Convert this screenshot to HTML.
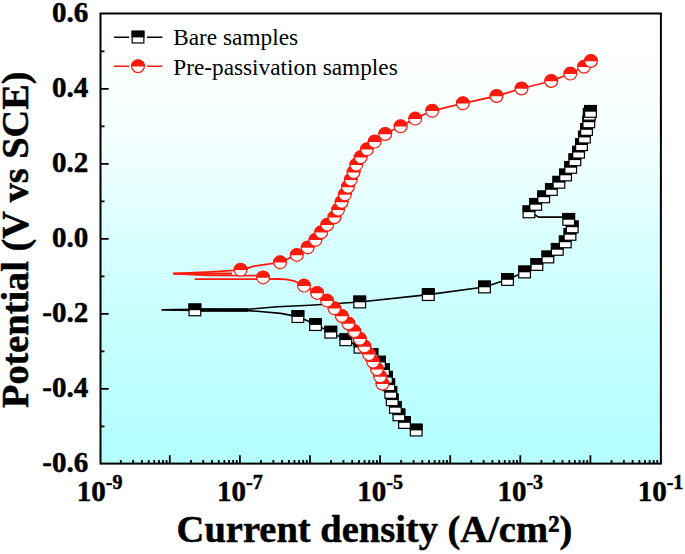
<!DOCTYPE html>
<html lang="en"><head><meta charset="utf-8"><title>Polarization curves</title>
<style>html,body{margin:0;padding:0;background:#fff}svg{display:block}text{font-family:"Liberation Serif","Times New Roman",serif;fill:#000}.b{font-weight:bold;stroke:#000;stroke-width:0.5px;stroke-linejoin:round}</style></head><body>
<svg width="685" height="554" viewBox="0 0 685 554">
<defs><linearGradient id="bg" x1="0" y1="0" x2="0" y2="1"><stop offset="0" stop-color="#ffffff"/><stop offset="0.11" stop-color="#fdffff"/><stop offset="0.2" stop-color="#f9ffff"/><stop offset="0.29" stop-color="#f3ffff"/><stop offset="0.39" stop-color="#e8ffff"/><stop offset="0.5" stop-color="#d9ffff"/><stop offset="0.64" stop-color="#ccffff"/><stop offset="0.75" stop-color="#c3ffff"/><stop offset="0.88" stop-color="#bbffff"/><stop offset="1" stop-color="#b5ffff"/></linearGradient>
<g id="sq"><rect x="-5.85" y="-5.85" width="11.70" height="11.70" fill="#fff" stroke="#000000" stroke-width="1.2"/><rect x="-6.45" y="-6.45" width="12.90" height="6.75" fill="#000000"/></g>
<g id="ci"><circle r="6.40" fill="#fff" stroke="#ff1a0d" stroke-width="1.2"/><path d="M-7.00,0.3 A7.00,7.00 0 0 1 7.00,0.3 Z" fill="#ff1a0d"/></g>
</defs>
<rect width="685" height="554" fill="#fff"/>
<rect x="100.5" y="13.5" width="560.40" height="450.10" fill="url(#bg)" stroke="#000" stroke-width="2"/>
<path d="M120.80,463.6 V460.10 M133.15,463.6 V460.10 M141.90,463.6 V460.10 M148.70,463.6 V460.10 M154.25,463.6 V460.10 M158.94,463.6 V460.10 M163.01,463.6 V460.10 M166.59,463.6 V460.10 M190.90,463.6 V460.10 M203.25,463.6 V460.10 M212.00,463.6 V460.10 M218.80,463.6 V460.10 M224.35,463.6 V460.10 M229.04,463.6 V460.10 M233.11,463.6 V460.10 M236.69,463.6 V460.10 M169.80,463.6 V455.20 M261.00,463.6 V460.10 M273.35,463.6 V460.10 M282.10,463.6 V460.10 M288.90,463.6 V460.10 M294.45,463.6 V460.10 M299.14,463.6 V460.10 M303.21,463.6 V460.10 M306.79,463.6 V460.10 M239.90,463.6 V455.20 M331.10,463.6 V460.10 M343.45,463.6 V460.10 M352.20,463.6 V460.10 M359.00,463.6 V460.10 M364.55,463.6 V460.10 M369.24,463.6 V460.10 M373.31,463.6 V460.10 M376.89,463.6 V460.10 M310.00,463.6 V455.20 M401.20,463.6 V460.10 M413.55,463.6 V460.10 M422.30,463.6 V460.10 M429.10,463.6 V460.10 M434.65,463.6 V460.10 M439.34,463.6 V460.10 M443.41,463.6 V460.10 M446.99,463.6 V460.10 M380.10,463.6 V455.20 M471.30,463.6 V460.10 M483.65,463.6 V460.10 M492.40,463.6 V460.10 M499.20,463.6 V460.10 M504.75,463.6 V460.10 M509.44,463.6 V460.10 M513.51,463.6 V460.10 M517.09,463.6 V460.10 M450.20,463.6 V455.20 M541.40,463.6 V460.10 M553.75,463.6 V460.10 M562.50,463.6 V460.10 M569.30,463.6 V460.10 M574.85,463.6 V460.10 M579.54,463.6 V460.10 M583.61,463.6 V460.10 M587.19,463.6 V460.10 M520.30,463.6 V455.20 M611.50,463.6 V460.10 M623.85,463.6 V460.10 M632.60,463.6 V460.10 M639.40,463.6 V460.10 M644.95,463.6 V460.10 M649.64,463.6 V460.10 M653.71,463.6 V460.10 M657.29,463.6 V460.10 M590.40,463.6 V455.20 M100.5,51.31 H104.50 M100.5,88.82 H108.70 M100.5,126.33 H104.50 M100.5,163.83 H108.70 M100.5,201.34 H104.50 M100.5,238.85 H108.70 M100.5,276.36 H104.50 M100.5,313.87 H108.70 M100.5,351.38 H104.50 M100.5,388.88 H108.70 M100.5,426.39 H104.50" stroke="#000" stroke-width="1.8" fill="none"/>
<text class="b" x="88.2" y="22.0" font-size="29" text-anchor="end">0.6</text>
<text class="b" x="88.2" y="97.0" font-size="29" text-anchor="end">0.4</text>
<text class="b" x="88.2" y="172.0" font-size="29" text-anchor="end">0.2</text>
<text class="b" x="88.2" y="247.1" font-size="29" text-anchor="end">0.0</text>
<text class="b" x="88.2" y="322.1" font-size="29" text-anchor="end">-0.2</text>
<text class="b" x="88.2" y="397.1" font-size="29" text-anchor="end">-0.4</text>
<text class="b" x="88.2" y="472.1" font-size="29" text-anchor="end">-0.6</text>
<text class="b" x="99.7" y="500.6" font-size="29" text-anchor="middle">10<tspan font-size="20" dy="-11.8">-9</tspan></text>
<text class="b" x="239.9" y="500.6" font-size="29" text-anchor="middle">10<tspan font-size="20" dy="-11.8">-7</tspan></text>
<text class="b" x="380.1" y="500.6" font-size="29" text-anchor="middle">10<tspan font-size="20" dy="-11.8">-5</tspan></text>
<text class="b" x="520.3" y="500.6" font-size="29" text-anchor="middle">10<tspan font-size="20" dy="-11.8">-3</tspan></text>
<text class="b" x="660.5" y="500.6" font-size="29" text-anchor="middle">10<tspan font-size="20" dy="-11.8">-1</tspan></text>
<text class="b" x="374.5" y="541.8" font-size="38.5" text-anchor="middle">Current density (A/cm²)</text>
<text class="b" transform="translate(27.6,239.7) rotate(-90)" font-size="38.3" text-anchor="middle">Potential (V vs SCE)</text>
<polyline points="416.2,430.1 404.5,422.5 398.9,414.9 395.4,407.4 392.2,399.8 390.8,392.4 388.7,384.8 386.4,377.3 383.5,369.8 379.5,362.2 371.9,354.6 360.0,347.2 345.8,339.8 330.8,332.2 315.5,324.6 297.9,316.6 280.8,313.4 259.8,311.5 248.0,310.6 194.9,310.5 162.1,309.9 194.9,309.3 248.0,309.2 277.3,306.8 310.0,305.2 359.7,302.0 428.3,294.6 484.5,287.0 507.5,279.5 524.6,272.0 536.9,264.5 547.9,257.0 557.3,249.4 565.3,241.9 570.0,234.4 572.2,226.9 568.7,219.4 562.5,217.1 538.7,217.1 535.0,215.0 529.0,211.9 535.7,204.4 543.7,196.9 551.4,189.5 558.9,182.3 565.6,175.0 570.7,167.4 574.9,159.8 578.6,152.2 581.5,144.7 584.4,137.1 586.5,129.5 588.8,121.9 589.3,114.3 590.5,111.4" fill="none" stroke="#000000" stroke-width="1.6" stroke-linejoin="round"/>
<use href="#sq" x="416.2" y="430.1"/>
<use href="#sq" x="404.5" y="422.5"/>
<use href="#sq" x="398.9" y="414.9"/>
<use href="#sq" x="395.4" y="407.4"/>
<use href="#sq" x="392.2" y="399.8"/>
<use href="#sq" x="390.8" y="392.4"/>
<use href="#sq" x="388.7" y="384.8"/>
<use href="#sq" x="386.4" y="377.3"/>
<use href="#sq" x="383.5" y="369.8"/>
<use href="#sq" x="379.5" y="362.2"/>
<use href="#sq" x="371.9" y="354.6"/>
<use href="#sq" x="360.0" y="347.2"/>
<use href="#sq" x="345.8" y="339.8"/>
<use href="#sq" x="330.8" y="332.2"/>
<use href="#sq" x="315.5" y="324.6"/>
<use href="#sq" x="297.9" y="316.6"/>
<use href="#sq" x="194.9" y="309.9"/>
<use href="#sq" x="359.7" y="302.0"/>
<use href="#sq" x="428.3" y="294.6"/>
<use href="#sq" x="484.5" y="287.0"/>
<use href="#sq" x="507.5" y="279.5"/>
<use href="#sq" x="524.6" y="272.0"/>
<use href="#sq" x="536.9" y="264.5"/>
<use href="#sq" x="547.9" y="257.0"/>
<use href="#sq" x="557.3" y="249.4"/>
<use href="#sq" x="565.3" y="241.9"/>
<use href="#sq" x="570.0" y="234.4"/>
<use href="#sq" x="572.2" y="226.9"/>
<use href="#sq" x="568.7" y="219.4"/>
<use href="#sq" x="529.0" y="211.9"/>
<use href="#sq" x="535.7" y="204.4"/>
<use href="#sq" x="543.7" y="196.9"/>
<use href="#sq" x="551.4" y="189.5"/>
<use href="#sq" x="558.9" y="182.3"/>
<use href="#sq" x="565.6" y="175.0"/>
<use href="#sq" x="570.7" y="167.4"/>
<use href="#sq" x="574.9" y="159.8"/>
<use href="#sq" x="578.6" y="152.2"/>
<use href="#sq" x="581.5" y="144.7"/>
<use href="#sq" x="584.4" y="137.1"/>
<use href="#sq" x="586.5" y="129.5"/>
<use href="#sq" x="588.8" y="121.9"/>
<use href="#sq" x="589.3" y="114.3"/>
<use href="#sq" x="590.5" y="111.4"/>
<polyline points="382.4,383.7 380.1,376.4 377.0,369.1 373.1,361.7 369.0,354.1 364.5,346.5 359.8,338.8 354.3,331.1 348.4,323.5 341.8,316.0 334.4,308.3 327.0,300.6 317.1,292.9 304.0,285.6 293.8,280.8 286.0,279.4 279.5,279.0 263.1,279.1 194.6,279.2" fill="none" stroke="#ff1a0d" stroke-width="1.8" stroke-linejoin="round"/>
<polyline points="263.1,277.4 259.0,275.7 207.9,275.3 173.6,273.6 205.9,272.2 234.5,270.4 240.6,269.8 247.8,268.2 252.9,266.3 280.1,262.3 296.8,254.9 307.7,247.4 315.5,239.8 321.2,232.2 327.2,224.7 334.4,217.2 338.1,209.6 341.6,202.0 344.9,194.4 347.9,187.0 350.8,179.6 353.6,172.1 356.3,164.6 360.7,157.1 367.0,149.3 374.6,141.6 385.2,134.0 400.6,126.3 415.2,118.6 432.2,110.8 462.9,103.3 496.5,96.0 521.5,88.5 551.2,81.0 570.3,73.6 584.0,66.7 590.9,61.0" fill="none" stroke="#ff1a0d" stroke-width="1.8" stroke-linejoin="round"/>
<path d="M173.6,273.6 H232" stroke="#ff1a0d" stroke-width="2.4" fill="none"/>
<path d="M201,310 H248" stroke="#000000" stroke-width="3.3" fill="none"/>
<use href="#ci" x="382.4" y="383.7"/>
<use href="#ci" x="380.1" y="376.4"/>
<use href="#ci" x="377.0" y="369.1"/>
<use href="#ci" x="373.1" y="361.7"/>
<use href="#ci" x="369.0" y="354.1"/>
<use href="#ci" x="364.5" y="346.5"/>
<use href="#ci" x="359.8" y="338.8"/>
<use href="#ci" x="354.3" y="331.1"/>
<use href="#ci" x="348.4" y="323.5"/>
<use href="#ci" x="341.8" y="316.0"/>
<use href="#ci" x="334.4" y="308.3"/>
<use href="#ci" x="327.0" y="300.6"/>
<use href="#ci" x="317.1" y="292.9"/>
<use href="#ci" x="304.0" y="285.6"/>
<use href="#ci" x="263.1" y="277.4"/>
<use href="#ci" x="240.6" y="269.8"/>
<use href="#ci" x="280.1" y="262.3"/>
<use href="#ci" x="296.8" y="254.9"/>
<use href="#ci" x="307.7" y="247.4"/>
<use href="#ci" x="315.5" y="239.8"/>
<use href="#ci" x="321.2" y="232.2"/>
<use href="#ci" x="327.2" y="224.7"/>
<use href="#ci" x="334.4" y="217.2"/>
<use href="#ci" x="338.1" y="209.6"/>
<use href="#ci" x="341.6" y="202.0"/>
<use href="#ci" x="344.9" y="194.4"/>
<use href="#ci" x="347.9" y="187.0"/>
<use href="#ci" x="350.8" y="179.6"/>
<use href="#ci" x="353.6" y="172.1"/>
<use href="#ci" x="356.3" y="164.6"/>
<use href="#ci" x="360.7" y="157.1"/>
<use href="#ci" x="367.0" y="149.3"/>
<use href="#ci" x="374.6" y="141.6"/>
<use href="#ci" x="385.2" y="134.0"/>
<use href="#ci" x="400.6" y="126.3"/>
<use href="#ci" x="415.2" y="118.6"/>
<use href="#ci" x="432.2" y="110.8"/>
<use href="#ci" x="462.9" y="103.3"/>
<use href="#ci" x="496.5" y="96.0"/>
<use href="#ci" x="521.5" y="88.5"/>
<use href="#ci" x="551.2" y="81.0"/>
<use href="#ci" x="570.3" y="73.6"/>
<use href="#ci" x="584.0" y="66.7"/>
<use href="#ci" x="590.9" y="61.0"/>
<path d="M114,37.2 H129.2 M147,37.2 H162.4" stroke="#000000" stroke-width="1.6"/>
<use href="#sq" x="138" y="37.1"/>
<path d="M114,66.2 H129.2 M147,66.2 H162.4" stroke="#ff1a0d" stroke-width="1.6"/>
<use href="#ci" x="138" y="66.2"/>
<text x="173.2" y="44.9" font-size="23.3">Bare samples</text>
<text x="173.2" y="74.9" font-size="23.3">Pre-passivation samples</text>
</svg></body></html>
